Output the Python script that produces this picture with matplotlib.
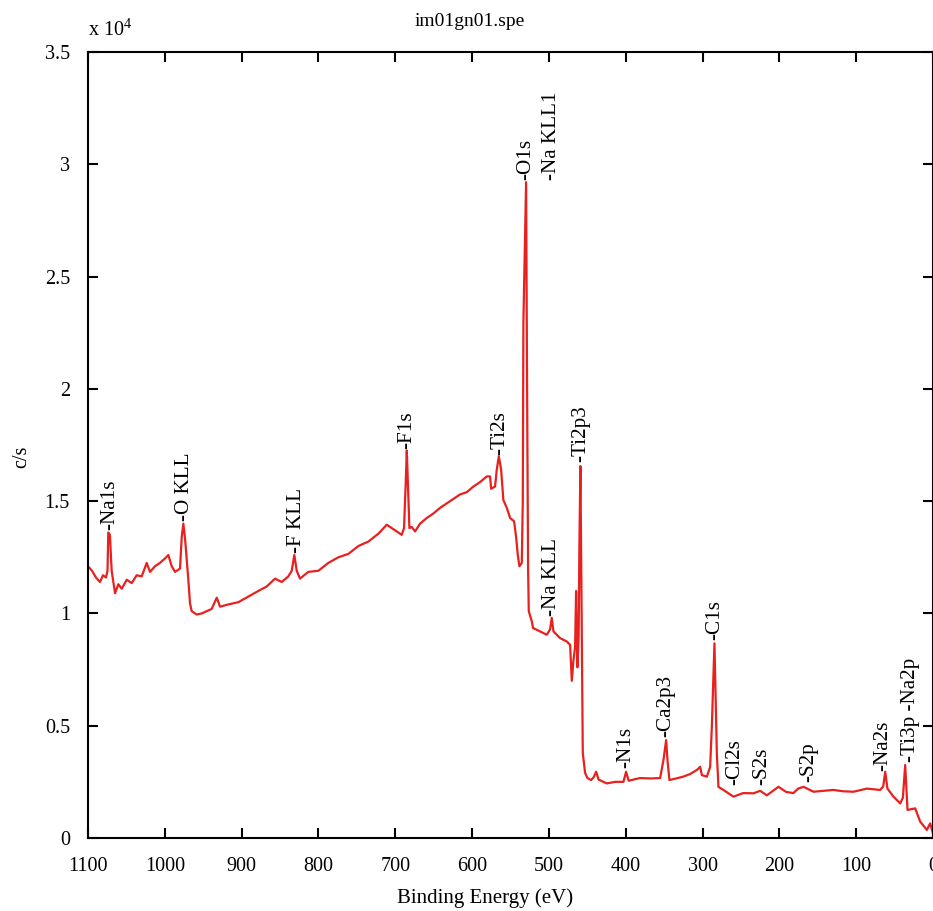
import matplotlib
matplotlib.use("Agg")
import matplotlib.pyplot as plt

plt.rcParams['font.family'] = ['Liberation Serif', 'DejaVu Serif']
plt.rcParams['mathtext.fontset'] = 'custom'
plt.rcParams['mathtext.rm'] = 'Liberation Serif'

title = "im01gn01.spe"
x_label = "Binding Energy (eV)"
y_label = "c/s"

# binding energy (eV)
energy = [1100, 1094.8, 1089.6, 1084.4, 1080.5, 1076.6, 1074.6, 1073.6, 1071.5, 1069.2,
          1064.8, 1060.5, 1056.1, 1049.6, 1043.1, 1036.6, 1030.1, 1023.6, 1019.3, 1012.8,
          1006.3, 999.7, 995.4, 991.0, 986.7, 980.2, 978.0, 975.9, 973.7, 971.5,
          969.4, 967.2, 965.0, 958.5, 952.0, 945.5, 939.0, 932.4, 928.1, 917.3,
          904.3, 891.3, 878.3, 867.3, 856.5, 847.8, 839.2, 834.8, 831.4, 828.3,
          824.0, 813.2, 800.1, 787.1, 774.1, 761.1, 748.1, 735.0, 722.0, 711.1,
          700.3, 691.6, 688.6, 686.3, 685.0, 682.9, 681.6, 678.5, 674.2, 667.7,
          659.0, 650.4, 641.7, 633.0, 624.3, 615.6, 606.9, 598.3, 589.6, 580.9,
          576.6, 575.2, 570.1, 567.9, 565.2, 562.2, 559.3, 554.8, 550.5, 545.3,
          542.7, 540.5, 538.4, 535.3, 534.0, 533.2, 529.7, 528.4, 527.1, 526.2,
          522.3, 520.6, 511.5, 502.7, 498.4, 496.3, 494.1, 485.4, 476.7, 472.4,
          470.2, 468.1, 465.9, 464.6, 462.9, 461.3, 460.3, 459.0, 457.4, 455.9,
          452.9, 449.9, 445.1, 441.8, 438.5, 435.3, 424.6, 413.8, 403.0, 399.5,
          396.2, 381.3, 368.2, 355.2, 350.9, 347.4, 345.5, 343.1, 325.3, 316.1,
          307.4, 303.1, 300.9, 294.4, 290.1, 287.9, 284.5, 281.4, 279.3, 272.8,
          259.8, 247.2, 233.7, 225.0, 216.3, 201.2, 191.1, 181.7, 175.5, 168.6,
          155.6, 143.0, 129.6, 116.9, 103.5, 86.1, 68.8, 64.8, 62.2, 59.3,
          51.4, 42.7, 39.2, 36.2, 33.2, 23.2, 16.7, 8.0, 3.7, 0.0]

# counts (x 10^4 c/s)
counts = [1.21, 1.19, 1.16, 1.14, 1.17, 1.16, 1.19, 1.36, 1.35, 1.19,
          1.09, 1.13, 1.11, 1.15, 1.135, 1.17, 1.165, 1.225, 1.185, 1.21,
          1.225, 1.245, 1.26, 1.21, 1.185, 1.20, 1.34, 1.40, 1.335, 1.24,
          1.15, 1.045, 1.01, 0.995, 1.00, 1.01, 1.02, 1.07, 1.03, 1.04,
          1.05, 1.075, 1.10, 1.12, 1.155, 1.14, 1.165, 1.19, 1.26, 1.19,
          1.155, 1.185, 1.19, 1.225, 1.25, 1.265, 1.30, 1.32, 1.355, 1.395,
          1.37, 1.35, 1.38, 1.59, 1.725, 1.52, 1.38, 1.385, 1.365, 1.40,
          1.425, 1.445, 1.47, 1.49, 1.51, 1.53, 1.54, 1.565, 1.585, 1.61,
          1.61, 1.555, 1.565, 1.64, 1.70, 1.64, 1.505, 1.47, 1.425, 1.41,
          1.34, 1.26, 1.21, 1.225, 1.5, 2.3, 2.92, 2.0, 1.2, 1.01,
          0.965, 0.935, 0.92, 0.905, 0.93, 0.98, 0.92, 0.89, 0.875, 0.86,
          0.70, 0.79, 0.85, 1.10, 0.76, 0.90, 1.3, 1.656, 1.0, 0.378,
          0.29, 0.267, 0.258, 0.27, 0.295, 0.26, 0.243, 0.25, 0.25, 0.295,
          0.255, 0.267, 0.265, 0.267, 0.347, 0.436, 0.34, 0.258, 0.273, 0.285,
          0.303, 0.317, 0.28, 0.273, 0.317, 0.496, 0.867, 0.377, 0.228, 0.214,
          0.184, 0.20, 0.199, 0.21, 0.19, 0.228, 0.205, 0.20, 0.22, 0.228,
          0.206, 0.21, 0.214, 0.208, 0.206, 0.22, 0.214, 0.23, 0.295, 0.22,
          0.184, 0.154, 0.18, 0.325, 0.125, 0.132, 0.073, 0.036, 0.065, 0.02]

# peak labels: text, energy (eV), height (x 10^4)
peak_labels = ["-Na1s", "-O KLL", "-F KLL", "-F1s", "-Ti2s", "-O1s", "-Na KLL1",
               "-Na KLL", "-Ti2p3", "-N1s", "-Ca2p3", "-C1s", "-Cl2s", "-S2s",
               "-S2p", "-Na2s", "-Ti3p -Na2p"]
peak_energy = [1071.5, 974.6, 828.4, 685.4, 563.5, 529.7, 497.0,
               497.0, 459.0, 399.5, 347.4, 284.5, 257.6, 222.8,
               162.1, 65.3, 29.7]
peak_height = [1.37, 1.41, 1.27, 1.73, 1.705, 2.93, 2.93,
               0.99, 1.674, 0.312, 0.45, 0.88, 0.236, 0.236,
               0.25, 0.30, 0.34]

x_ticks = [1100, 1000, 900, 800, 700, 600, 500, 400, 300, 200, 100, 0]
y_ticks = [0, 0.5, 1, 1.5, 2, 2.5, 3, 3.5]
y_tick_labels = ["0", "0.5", "1", "1.5", "2", "2.5", "3", "3.5"]

fs = 14.5
fig = plt.figure(figsize=(9.33, 9.11), dpi=100)
ax = fig.add_axes([88 / 933, 1 - 838 / 911, (933 - 88) / 933, (838 - 52) / 911])

ax.plot(energy, counts, color='#e8201e', lw=1.6)

for lab, ex, hy in zip(peak_labels, peak_energy, peak_height):
    ax.text(ex, hy, lab, rotation=90, ha='center', va='bottom', fontsize=15.2)

ax.set_xlim(1100, 0)
ax.set_ylim(0, 3.5)
ax.set_xticks(x_ticks)
ax.set_xticklabels([str(t) for t in x_ticks])
ax.set_yticks(y_ticks)
ax.set_yticklabels(y_tick_labels)

ax.tick_params(direction='in', length=7.5, width=1.5, top=True, right=True,
               labelsize=fs)
ax.tick_params(axis='y', pad=13)
ax.tick_params(axis='x', pad=14)
for s in ax.spines.values():
    s.set_linewidth(1.5)

fig.text(470 / 933, 1 - 22 / 911, title, ha='center', va='center', fontsize=fs - 0.5)
fig.text(485 / 933, 1 - 898 / 911, x_label, ha='center', va='center', fontsize=15)
fig.text(22 / 933, 1 - 457 / 911, y_label, ha='center', va='center', rotation=90, fontsize=fs)
fig.text(88 / 933, 1 - 30 / 911, r"x 10$^{\mathrm{4}}$", ha='left', va='center', fontsize=fs)

fig.savefig("out.png", dpi=100)
